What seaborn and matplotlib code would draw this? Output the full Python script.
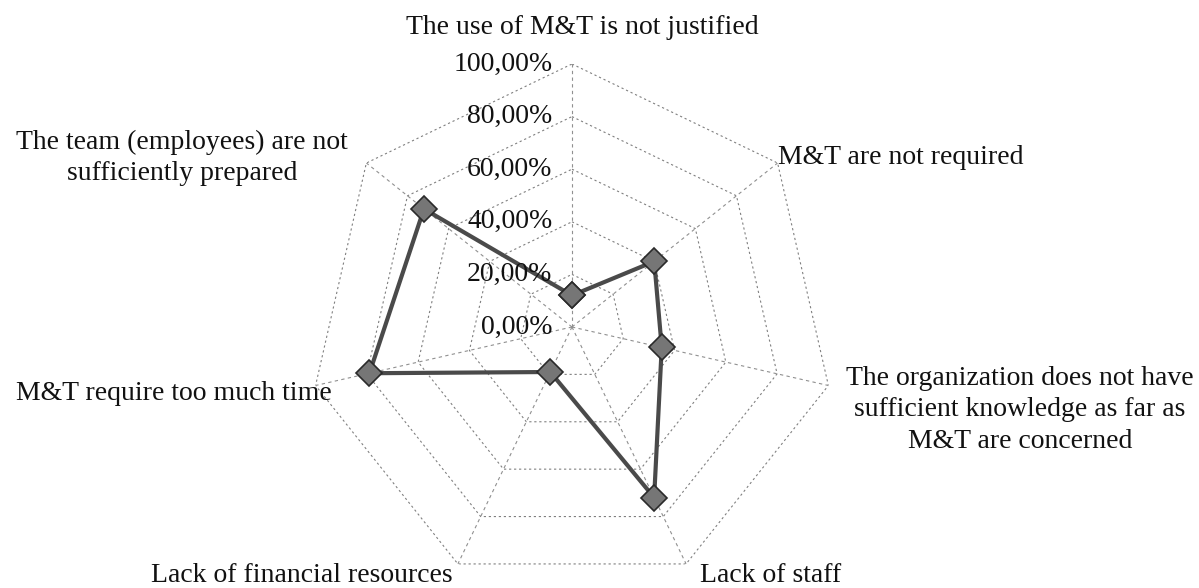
import numpy as np
import pandas as pd
import seaborn as sns
import matplotlib.pyplot as plt

categories = ["The use of M&T is not justified",
              "M&T are not required",
              "The organization does not have\nsufficient knowledge as far as\nM&T are concerned",
              "Lack of staff",
              "Lack of financial resources",
              "M&T require too much time",
              "The team (employees) are not\nsufficiently prepared"]
values = [12, 40, 35, 72, 19, 79, 72]
levels = [0, 20, 40, 60, 80, 100]
level_labels = ["0,00%", "20,00%", "40,00%", "60,00%", "80,00%", "100,00%"]

n = len(categories)
theta = np.linspace(0, 2 * np.pi, n, endpoint=False)

df = pd.DataFrame({"theta": np.append(theta, 2 * np.pi),
                   "value": values + values[:1]})

sns.set_style("white")
plt.rcParams['font.family'] = ['Liberation Serif', 'DejaVu Serif']

fig = plt.figure(figsize=(11.99, 5.88), dpi=100)
ax = fig.add_axes([0.2577, -0.0034, 0.4387, 0.8946], projection='polar')
ax.set_theta_offset(np.pi / 2)
ax.set_theta_direction(-1)
ax.set_ylim(0, 100)
ax.grid(False)
ax.spines['polar'].set_visible(False)
ax.set_xticks([])
ax.set_yticks([])

# heptagon grid
ring_t = np.append(theta, 2 * np.pi)
for lv in levels[1:]:
    ax.plot(ring_t, [lv] * (n + 1), color='#808080', lw=0.8,
            ls=(0, (2, 2.5)), zorder=1)
for t in theta:
    ax.plot([t, t], [0, 100], color='#909090', lw=0.8,
            ls=(0, (3, 3)), zorder=1)

sns.lineplot(data=df, x="theta", y="value", sort=False, ax=ax,
             color='#4a4a4a', lw=3, marker='D', markersize=13,
             markerfacecolor='#767676', markeredgecolor='#2a2a2a',
             markeredgewidth=1.2, zorder=3)
ax.set_xlabel("")
ax.set_ylabel("")

for lv, lab in zip(levels, level_labels):
    ax.annotate(lab, xy=(0, lv), xytext=(-14, 0), textcoords='offset points',
                ha='right', va='center', fontsize=20, color='#111111')

# category labels (figure pixel positions)
W, H = 1199, 588
label_pos = [(582, 28, 'center'), (778, 157, 'left'), (1020, 410, 'center'),
             (700, 575, 'left'), (453, 575, 'right'), (332, 393, 'right'),
             (182, 158, 'center')]
for lab, (px, py, ha) in zip(categories, label_pos):
    fig.text(px / W, 1 - py / H, lab, ha=ha, va='center', fontsize=20,
             color='#111111', linespacing=1.35, multialignment='center')

fig.savefig('out.png', dpi=100)
